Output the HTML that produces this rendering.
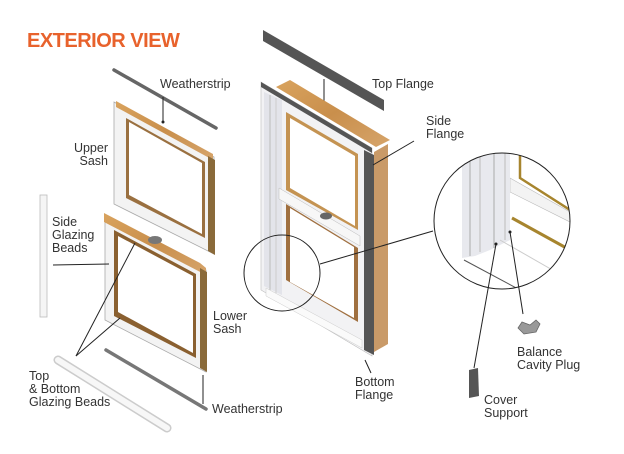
<!DOCTYPE html>
<html><head><meta charset="utf-8"><style>
html,body{margin:0;padding:0;background:#fff;}
svg{display:block;}
text{font-family:"Liberation Sans",sans-serif;font-size:12.5px;fill:#333;}
</style></head><body>
<svg width="624" height="454" viewBox="0 0 624 454">
<defs>
<linearGradient id="wood" x1="0" y1="0" x2="1" y2="1"><stop offset="0" stop-color="#d9a35e"/><stop offset="0.5" stop-color="#c98f4c"/><stop offset="1" stop-color="#d6a46a"/></linearGradient>
<clipPath id="bigc"><circle cx="502" cy="221" r="68"/></clipPath>
</defs>
<text x="27" y="47" style="font-size:20px;fill:#e8622c;font-weight:bold;letter-spacing:-0.5px">EXTERIOR VIEW</text>

<!-- top weatherstrip -->
<line x1="114" y1="70" x2="216" y2="128" stroke="#666" stroke-width="3.5" stroke-linecap="round"/>
<text x="160" y="88">Weatherstrip</text>
<line x1="163" y1="97" x2="163" y2="122" stroke="#222" stroke-width="1"/><circle cx="163" cy="122" r="1.5" fill="#222"/>

<!-- upper sash -->
<polygon points="114,102 214,157 214,254 114,204" fill="#f3f3f3" stroke="#aaa" stroke-width="0.8"/>
<polygon points="116,101 213,154 213,160 116,107" fill="url(#wood)"/>
<polygon points="208,156 215,160 215,255 208,251" fill="#8a6a3a"/>
<polygon points="126,118 205,162 205,238 126,198" fill="#9a7040"/>
<polygon points="129,122 202,163 202,234 129,195" fill="#fff"/>
<text x="108" y="152" text-anchor="end">Upper</text><text x="108" y="165" text-anchor="end">Sash</text>

<!-- lower sash -->
<polygon points="105,216 206,270 206,372 105,320" fill="#f3f3f3" stroke="#aaa" stroke-width="0.8"/>
<polygon points="104,213 200,263 206,268 206,275 104,222" fill="url(#wood)"/>
<polygon points="200,268 207,272 207,372 200,368" fill="#8a6a3a"/>
<polygon points="114,230 196,274 196,358 114,316" fill="#8a6030"/>
<polygon points="118,236 193,276 193,353 118,312" fill="#fff"/>
<ellipse cx="155" cy="240" rx="7" ry="4" fill="#777"/>

<!-- side glazing bead -->
<rect x="40" y="195" width="7" height="122" fill="#f5f5f5" stroke="#bbb" stroke-width="0.8"/>
<text x="52" y="226">Side</text><text x="52" y="239">Glazing</text><text x="52" y="252">Beads</text>
<line x1="53" y1="265" x2="109" y2="264" stroke="#222" stroke-width="1"/>

<!-- bottom glazing bead -->
<line x1="58" y1="360" x2="167" y2="428" stroke="#ccc" stroke-width="9" stroke-linecap="round"/>
<line x1="58" y1="360" x2="167" y2="428" stroke="#f7f7f7" stroke-width="6" stroke-linecap="round"/>
<line x1="76" y1="356" x2="135" y2="243" stroke="#222" stroke-width="1"/>
<line x1="76" y1="356" x2="120" y2="318" stroke="#222" stroke-width="1"/>
<text x="29" y="380">Top</text><text x="29" y="393">&amp; Bottom</text><text x="29" y="406">Glazing Beads</text>

<!-- bottom weatherstrip -->
<line x1="106" y1="350" x2="206" y2="409" stroke="#777" stroke-width="3.5" stroke-linecap="round"/>
<text x="213" y="320">Lower</text><text x="213" y="333">Sash</text>
<line x1="203" y1="375" x2="203" y2="404" stroke="#222" stroke-width="1"/>
<text x="212" y="413">Weatherstrip</text>

<!-- top flange -->
<polygon points="263,30 384,100 384,111 263,41" fill="#555"/>
<text x="372" y="88">Top Flange</text>
<line x1="324" y1="79" x2="324" y2="112" stroke="#222" stroke-width="1"/>

<!-- main frame -->
<polygon points="276,87 290,80 390,140 376,147" fill="url(#wood)"/>
<polygon points="374,152 388,144 388,344 374,352" fill="#c99a68"/>
<polygon points="261,82 372,148 372,356 261,290" fill="#f2f2f4" stroke="#bbb" stroke-width="0.6"/>
<polygon points="261,82 372,148 372,153 261,87" fill="#555"/>
<polygon points="364,150 374,155 374,355 364,350" fill="#555"/>
<polygon points="264,92 282,100 282,295 264,286" fill="#e3e4ea"/>
<line x1="270" y1="95" x2="270" y2="290" stroke="#bbb"/>
<line x1="276" y1="98" x2="276" y2="293" stroke="#ccc"/>
<!-- upper opening -->
<polygon points="286,112 358,154 358,230 286,190" fill="#c49352"/>
<polygon points="290,118 355,156 355,226 290,188" fill="#fff"/>
<!-- meeting rail -->
<polygon points="279,188 360,236 360,246 279,199" fill="#f7f7f7" stroke="#bbb" stroke-width="0.5"/>
<ellipse cx="326" cy="216" rx="6" ry="3.5" fill="#666"/>
<!-- lower opening -->
<polygon points="286,204 358,248 358,322 286,280" fill="#a07040"/>
<polygon points="290,208 354,247 354,318 290,282" fill="#fff"/>
<polygon points="266,288 362,340 362,348 266,296" fill="#fafafa" stroke="#ccc" stroke-width="0.5"/>
<line x1="365" y1="360" x2="371" y2="373" stroke="#222" stroke-width="1"/>
<text x="355" y="386">Bottom</text><text x="355" y="399">Flange</text>
<text x="426" y="125">Side</text><text x="426" y="138">Flange</text>
<line x1="414" y1="141" x2="373" y2="165" stroke="#222" stroke-width="1"/>

<!-- small circle + connector -->
<circle cx="282" cy="273" r="38" fill="none" stroke="#222" stroke-width="1"/>
<line x1="320" y1="264" x2="433" y2="231" stroke="#222" stroke-width="1"/>

<!-- big circle detail -->
<g clip-path="url(#bigc)">
<rect x="430" y="150" width="150" height="145" fill="#fff"/>
<polygon points="520,150 575,150 575,220 520,180" fill="#fff"/>
<polyline points="520,150 520,178 570,210" fill="none" stroke="#a7852e" stroke-width="2.5"/>
<polygon points="510,178 570,212 570,222 510,192" fill="#f3f3f3" stroke="#bbb" stroke-width="0.6"/>
<polyline points="512,218 570,250" fill="none" stroke="#a7852e" stroke-width="3"/>
<polygon points="462,150 510,150 510,240 500,245 490,250 475,256 462,258" fill="#e8e9ee"/>
<line x1="470" y1="150" x2="470" y2="256" stroke="#aaa"/>
<line x1="480" y1="150" x2="480" y2="252" stroke="#bbb"/>
<line x1="494" y1="150" x2="494" y2="248" stroke="#aaa"/>
<line x1="505" y1="150" x2="505" y2="240" stroke="#bbb"/>
<line x1="464" y1="260" x2="520" y2="290" stroke="#555" stroke-width="1"/>
<line x1="500" y1="240" x2="570" y2="280" stroke="#ccc" stroke-width="1"/>
</g>
<circle cx="502" cy="221" r="68" fill="none" stroke="#222" stroke-width="1"/>

<line x1="496" y1="244" x2="474" y2="368" stroke="#222" stroke-width="1"/><circle cx="496" cy="244" r="1.5" fill="#222"/>
<line x1="510" y1="232" x2="523" y2="314" stroke="#222" stroke-width="1"/><circle cx="510" cy="232" r="1.5" fill="#222"/>
<!-- balance cavity plug -->
<path d="M518,328 L522,322 L530,325 L536,320 L540,324 L536,332 L524,334 Z" fill="#999" stroke="#666" stroke-width="0.8"/>
<text x="517" y="356">Balance</text><text x="517" y="369">Cavity Plug</text>
<!-- cover support -->
<polygon points="469,370 478,368 479,396 469,398" fill="#555"/>
<text x="484" y="404">Cover</text><text x="484" y="417">Support</text>
</svg>
</body></html>
